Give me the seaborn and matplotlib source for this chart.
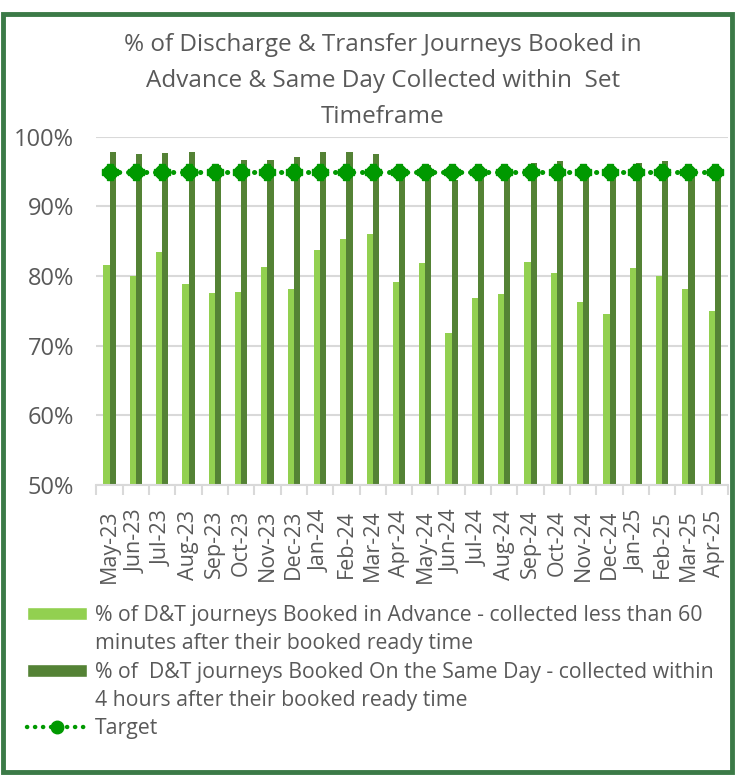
import matplotlib
matplotlib.use("Agg")
import numpy as np
import pandas as pd
import seaborn as sns
import matplotlib.pyplot as plt
from matplotlib.patches import Rectangle, Patch
from matplotlib.lines import Line2D

months = ["May-23", "Jun-23", "Jul-23", "Aug-23", "Sep-23", "Oct-23", "Nov-23", "Dec-23",
          "Jan-24", "Feb-24", "Mar-24", "Apr-24", "May-24", "Jun-24", "Jul-24", "Aug-24",
          "Sep-24", "Oct-24", "Nov-24", "Dec-24", "Jan-25", "Feb-25", "Mar-25", "Apr-25"]
advance = [81.6, 80.0, 83.5, 78.8, 77.5, 77.7, 81.3, 78.1,
           83.8, 85.3, 86.1, 79.2, 81.8, 71.8, 76.8, 77.4,
           82.0, 80.5, 76.3, 74.6, 81.1, 80.0, 78.1, 75.0]
same_day = [97.8, 97.5, 97.7, 97.8, 96.0, 96.6, 96.7, 97.1,
            97.8, 97.8, 97.5, 95.0, 96.0, 93.8, 95.1, 95.2,
            96.2, 96.5, 95.0, 95.0, 96.2, 96.5, 95.0, 94.1]
target = [95.0] * len(months)
yticks = [50, 60, 70, 80, 90, 100]

lbl_adv = ["% of D&T journeys Booked in Advance - collected less than 60",
           "minutes after their booked ready time"]
lbl_same = ["% of  D&T journeys Booked On the Same Day - collected within",
            "4 hours after their booked ready time"]
lbl_target = "Target"
title = "% of Discharge & Transfer Journeys Booked in\nAdvance & Same Day Collected within  Set\nTimeframe"

LIGHT = "#92d050"
DARK = "#548235"
TGT = "#009900"
TXT = "#595959"
GRID = "#d9d9d9"

df = pd.DataFrame({
    "month": months * 2,
    "value": advance + same_day,
    "series": ["advance"] * len(months) + ["same"] * len(months),
})

sns.set_theme(style="white")
plt.rcParams["font.family"] = ["Open Sans", "DejaVu Sans"]

fig = plt.figure(figsize=(7.36, 7.77), dpi=100)
ax = fig.add_axes([0.131, 0.376, 0.858, 0.448])

sns.barplot(data=df, x="month", y="value", hue="series", palette=[LIGHT, DARK],
            width=0.47, saturation=1, ax=ax, legend=False, order=months,
            hue_order=["advance", "same"], linewidth=0, edgecolor="none")

TGT_LS = (0, (0.05, 1.75))
xpos = np.arange(len(months))
ax.plot(xpos, target, color=TGT, linestyle=TGT_LS, lw=3.6,
        dash_capstyle="round", marker="o", markersize=10, zorder=5)
ax.plot(xpos, target, color=TGT, linestyle="none", marker="P", markersize=12, zorder=5)

ax.set_ylim(50, 100)
ax.set_xlim(-0.5, len(months) - 0.5)
ax.set_yticks(yticks)
ax.set_yticklabels([f"{v}%" for v in yticks])
ax.yaxis.grid(True, color=GRID, lw=1.5)
ax.set_axisbelow(True)
for s in ["top", "right", "left"]:
    ax.spines[s].set_visible(False)
ax.spines["bottom"].set_color(GRID)
ax.spines["bottom"].set_linewidth(1.5)
ax.set_xlabel("")
ax.set_ylabel("")
ax.set_xticks(xpos)
ax.set_xticklabels(months, rotation=90)
ax.set_xticks(np.arange(-0.5, len(months), 1), minor=True)
ax.tick_params(axis="x", which="major", length=0, pad=18, labelsize=15.5, labelcolor=TXT)
ax.tick_params(axis="x", which="minor", length=7, width=1.5, color=GRID, bottom=True)
ax.tick_params(axis="y", length=0, pad=16, labelsize=17, labelcolor=TXT)

fig.text(0.52, 0.958, title, ha="center", va="top", fontsize=17.5, color=TXT, linespacing=1.68)

blank = Patch(facecolor="none", edgecolor="none")
handles = [Patch(facecolor=LIGHT), blank, Patch(facecolor=DARK), blank,
           Line2D([0], [0], color=TGT, linestyle=TGT_LS, lw=3.2,
                  dash_capstyle="round", marker="o", markersize=9)]
labels = [lbl_adv[0], lbl_adv[1], lbl_same[0], lbl_same[1], lbl_target]
leg = fig.legend(handles, labels, loc="upper left",
                 bbox_to_anchor=(0.025, 0.232), frameon=False, fontsize=15.3,
                 handlelength=2.85, handleheight=0.55, handletextpad=0.35, labelspacing=0.34,
                 borderaxespad=0)
for t in leg.get_texts():
    t.set_color(TXT)

fig.patches.append(Rectangle((0.004, 0.006), 0.991, 0.976, transform=fig.transFigure,
                             fill=False, edgecolor="#3b7a47", lw=3.5, zorder=10))

fig.savefig("out.png", dpi=100)
